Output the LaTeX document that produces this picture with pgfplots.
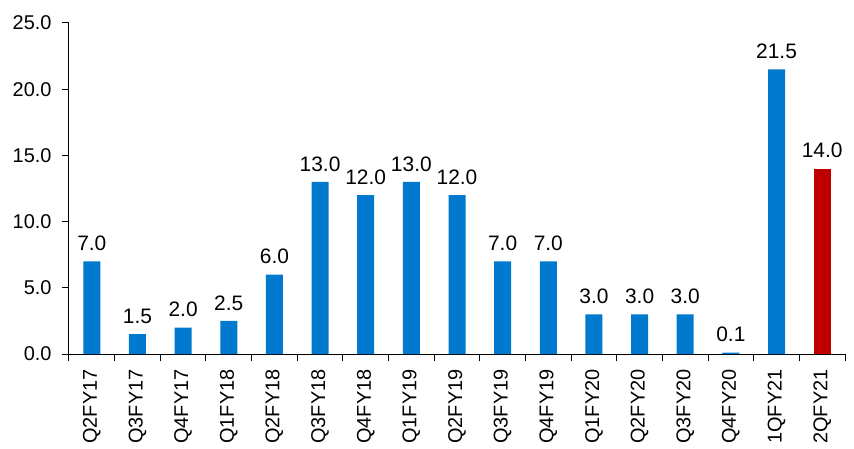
\documentclass[border=0pt]{standalone}
\usepackage{pgfplots}
\pgfplotsset{compat=1.18}
\usepackage{fontspec}
\setmainfont{Liberation Sans}
\definecolor{barblue}{HTML}{0079CF}
\definecolor{barred}{HTML}{C00000}
\pgfplotstableread{
x y
0 7.0
1 1.5
2 2.0
3 2.5
4 6.0
5 13.0
6 12.0
7 13.0
8 12.0
9 7.0
10 7.0
11 3.0
12 3.0
13 3.0
14 0.1
15 21.5
}\bluedata
\pgfplotstableread{
x y
16 14.0
}\reddata
\begin{document}
\begin{tikzpicture}
\begin{axis}[
  at={(0,0)}, anchor=south west,
  scale only axis, width=776bp, height=331bp,
  xmin=-0.5, xmax=16.5, ymin=0, ymax=25,
  axis x line=bottom, axis y line=left,
  axis line style={-, black, line width=1bp},
  /pgf/number format/assume math mode=true,
  ytick={0,5,...,25},
  yticklabel={\pgfmathprintnumber[fixed,fixed zerofill,precision=1]{\tick}},
  yticklabel style={font=\fontsize{20}{20}\selectfont, xshift=-7bp},
  tick style={draw=black, line width=1bp},
  tick align=outside,
  major tick length=7bp,
  xtick={-0.5,0.5,...,16.5},
  xticklabels={},
  extra x ticks={0,...,16},
  extra x tick labels={Q2FY17,Q3FY17,Q4FY17,Q1FY18,Q2FY18,Q3FY18,Q4FY18,Q1FY19,Q2FY19,Q3FY19,Q4FY19,Q1FY20,Q2FY20,Q3FY20,Q4FY20,1QFY21,2QFY21},
  extra x tick style={tick style={draw=none}, xticklabel style={rotate=90, anchor=east, font=\fontsize{20}{20}\selectfont, xshift=-5bp}},
  ybar, bar width=17bp, bar shift=0pt,
  nodes near coords,
  nodes near coords style={font=\fontsize{21}{21}\selectfont, yshift=7bp, /pgf/number format/.cd, fixed, fixed zerofill, precision=1, assume math mode=true},
  clip=false,
]
\addplot[fill=barblue, draw=none] table[x=x,y=y] {\bluedata};
\addplot[fill=barred, draw=none] table[x=x,y=y] {\reddata};
\end{axis}
\pgfresetboundingbox
\path[use as bounding box] (-69bp,-95bp) rectangle (785bp,354bp);
\end{tikzpicture}
\end{document}
